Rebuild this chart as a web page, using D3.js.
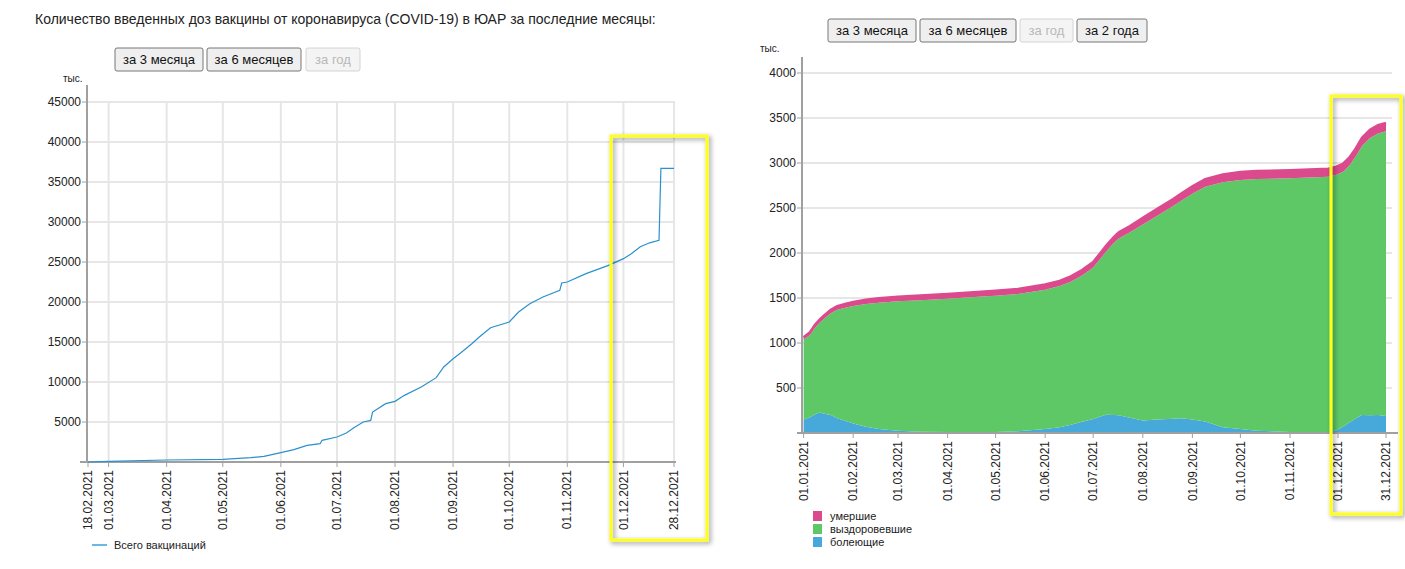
<!DOCTYPE html>
<html>
<head>
<meta charset="utf-8">
<script src="https://cdn.jsdelivr.net/npm/d3@7"></script>
<style>
  html, body { margin: 0; padding: 0; background: #fff; }
  svg { display: block; font-family: 'Liberation Sans', Arial, sans-serif; }
</style>
</head>
<body>
<svg id="chart" width="1405" height="569"></svg>
<script>
// ── Data ─────────────────────────────────────────────
// Left: total vaccinations, thousands
const vacDates = ['2021-02-18','2021-03-01','2021-04-01','2021-05-01','2021-05-16','2021-05-23','2021-06-01',
  '2021-06-08','2021-06-15','2021-06-22','2021-06-23','2021-07-01','2021-07-06','2021-07-10','2021-07-15',
  '2021-07-19','2021-07-20','2021-07-27','2021-08-01','2021-08-06','2021-08-15','2021-08-23','2021-08-27',
  '2021-09-01','2021-09-05','2021-09-11','2021-09-15','2021-09-21','2021-10-01','2021-10-06','2021-10-12',
  '2021-10-19','2021-10-28','2021-10-29','2021-11-01','2021-11-11','2021-11-23','2021-12-01','2021-12-05',
  '2021-12-10','2021-12-15','2021-12-20','2021-12-21','2021-12-28'];
const vacTotal = [0, 83, 250, 333, 540, 710, 1170,
  1540, 2080, 2290, 2710, 3125, 3625, 4290, 5000,
  5200, 6250, 7290, 7580, 8330, 9375, 10540, 11875,
  12900, 13625, 14790, 15625, 16790, 17500, 18750, 19790,
  20625, 21460, 22375, 22500, 23540, 24580, 25420, 26000,
  26900, 27400, 27700, 36700, 36700];
const vacTicks = ['2021-02-18','2021-03-01','2021-04-01','2021-05-01','2021-06-01','2021-07-01','2021-08-01',
  '2021-09-01','2021-10-01','2021-11-01','2021-12-01','2021-12-28'];
const vacYTicks = [5000, 10000, 15000, 20000, 25000, 30000, 35000, 40000, 45000];

// Right: cases, thousands
const caseDates = ['2021-01-01','2021-01-05','2021-01-08','2021-01-11','2021-01-14','2021-01-18','2021-01-22',
  '2021-01-27','2021-02-01','2021-02-09','2021-02-17','2021-03-01','2021-03-15','2021-04-01','2021-04-15',
  '2021-05-01','2021-05-15','2021-06-01','2021-06-10','2021-06-17','2021-06-24','2021-07-01','2021-07-05',
  '2021-07-09','2021-07-14','2021-07-17','2021-07-24','2021-08-01','2021-08-10','2021-08-20','2021-08-25',
  '2021-09-01','2021-09-09','2021-09-20','2021-10-01','2021-10-11','2021-11-01','2021-11-25','2021-11-30',
  '2021-12-04','2021-12-08','2021-12-12','2021-12-16','2021-12-21','2021-12-26','2021-12-31'];
const active = [150, 175, 205, 229, 215, 200, 165,
  135, 105, 70, 45, 25, 15, 10, 8,
  11, 20, 44, 65, 92, 125, 155, 180,
  203, 200, 196, 170, 140, 150, 158, 163,
  150, 129, 63, 44, 26, 10, 5, 30,
  70, 118, 160, 200, 196, 200, 190];
const recovered = [886, 914, 962, 996, 1058, 1131, 1204,
  1257, 1305, 1363, 1403, 1440, 1461, 1482, 1499,
  1515, 1525, 1549, 1567, 1589, 1625, 1683, 1746,
  1812, 1913, 1966, 2060, 2178, 2265, 2364, 2417,
  2508, 2607, 2722, 2768, 2796, 2821, 2843, 2840,
  2830, 2852, 2910, 2990, 3083, 3129, 3164];
const deaths = [29, 31, 33, 35, 37, 39, 41,
  43, 45, 47, 49, 50, 51, 53, 53,
  54, 55, 57, 58, 59, 60, 62, 64,
  65, 67, 68, 70, 72, 75, 78, 80,
  82, 84, 87, 88, 88, 89, 89, 90,
  90, 90, 90, 90, 91, 91, 91];
const caseTicks = ['2021-01-01','2021-02-01','2021-03-01','2021-04-01','2021-05-01','2021-06-01','2021-07-01',
  '2021-08-01','2021-09-01','2021-10-01','2021-11-01','2021-12-01','2021-12-31'];
const caseYTicks = [500, 1000, 1500, 2000, 2500, 3000, 3500, 4000];

const seriesKeys   = ['active', 'recovered', 'deaths'];
const seriesColors = { active: '#47a8da', recovered: '#5ec867', deaths: '#dc4a8e' };
const legendItems  = [['deaths', 'умершие'], ['recovered', 'выздоровевшие'], ['active', 'болеющие']];

// ── Helpers ──────────────────────────────────────────
const parse = d3.timeParse('%Y-%m-%d');
const fmt   = d3.timeFormat('%d.%m.%Y');
const svg   = d3.select('#chart');

const defs = svg.append('defs');
const sh = defs.append('filter').attr('id', 'shadow').attr('x', '-20%').attr('y', '-10%').attr('width', '140%').attr('height', '120%');
sh.append('feDropShadow').attr('dx', 2).attr('dy', 2).attr('stdDeviation', 2.5).attr('flood-color', '#000').attr('flood-opacity', 0.45);

function button(x, y, w, label, disabled) {
  const g = svg.append('g').attr('transform', `translate(${x},${y})`);
  g.append('rect').attr('width', w).attr('height', 23).attr('rx', 2)
    .attr('fill', disabled ? '#f4f4f4' : '#efefef')
    .attr('stroke', disabled ? '#d4d4d4' : '#767676');
  g.append('text').attr('x', w / 2).attr('y', 16).attr('text-anchor', 'middle')
    .attr('font-size', 13).attr('fill', disabled ? '#b8b8b8' : '#111').text(label);
}

function yAxisGroup(y, ticks, x0, x1, top) {
  const g = svg.append('g');
  g.selectAll('line.gy').data(ticks).join('line')
    .attr('x1', x0).attr('x2', x1).attr('y1', d => y(d)).attr('y2', d => y(d))
    .attr('stroke', '#e6e6e6').attr('stroke-width', 2);
  g.append('line').attr('x1', x0).attr('x2', x0).attr('y1', top).attr('y2', y(0))
    .attr('stroke', '#a0a0a0').attr('stroke-width', 2);
  g.selectAll('line.ty').data(ticks).join('line')
    .attr('x1', x0 - 5).attr('x2', x0).attr('y1', d => y(d)).attr('y2', d => y(d))
    .attr('stroke', '#a0a0a0');
  g.selectAll('text').data(ticks).join('text')
    .attr('x', x0 - 6).attr('y', d => y(d)).attr('dy', '0.35em')
    .attr('text-anchor', 'end').attr('font-size', 12).attr('fill', '#222').text(d => d);
}

function xAxisGroup(x, ticks, y0, xa, xb) {
  const g = svg.append('g');
  g.append('line').attr('x1', xa).attr('x2', xb).attr('y1', y0).attr('y2', y0)
    .attr('stroke', '#a0a0a0').attr('stroke-width', 2);
  g.selectAll('line.tx').data(ticks).join('line').attr('class', 'tx')
    .attr('x1', d => x(d)).attr('x2', d => x(d)).attr('y1', y0).attr('y2', y0 + 5)
    .attr('stroke', '#a0a0a0');
  g.selectAll('text').data(ticks).join('text')
    .attr('transform', d => `translate(${x(d)},${y0 + 8}) rotate(-90)`)
    .attr('dy', '0.35em').attr('text-anchor', 'end')
    .attr('font-size', 12).attr('fill', '#222').text(d => fmt(d));
}

// ── Title ────────────────────────────────────────────
svg.append('text').attr('x', 35).attr('y', 24).attr('font-size', 14).attr('fill', '#222')
  .text('Количество введенных доз вакцины от коронавируса (COVID-19) в ЮАР за последние месяцы:');

// ── Left chart: vaccinations ─────────────────────────
button(115, 48, 88, 'за 3 месяца', false);
button(207, 48, 94, 'за 6 месяцев', false);
button(306, 48, 54, 'за год', true);

const vData = vacDates.map((d, i) => ({ date: parse(d), value: vacTotal[i] }));
const vTicks = vacTicks.map(parse);
const xL = d3.scaleTime().domain([vTicks[0], vTicks[vTicks.length - 1]]).range([88, 674]);
const yL = d3.scaleLinear().domain([0, 45000]).range([462, 102]);

svg.append('g').selectAll('line').data(vTicks.slice(1)).join('line')
  .attr('x1', d => xL(d)).attr('x2', d => xL(d)).attr('y1', yL(45000)).attr('y2', yL(0))
  .attr('stroke', '#e6e6e6').attr('stroke-width', 2);
yAxisGroup(yL, vacYTicks, 87, 675, 85);
xAxisGroup(xL, vTicks, 462, 80, 676);
svg.append('text').attr('x', 63).attr('y', 82).attr('font-size', 10).attr('fill', '#222').text('тыс.');

svg.append('path').datum(vData)
  .attr('fill', 'none').attr('stroke', '#2b91cc').attr('stroke-width', 1.2)
  .attr('d', d3.line().x(d => xL(d.date)).y(d => yL(d.value)));

svg.append('line').attr('x1', 92).attr('x2', 107).attr('y1', 545).attr('y2', 545)
  .attr('stroke', '#6db8e2').attr('stroke-width', 2);
svg.append('text').attr('x', 114).attr('y', 549).attr('font-size', 11).attr('fill', '#222').text('Всего вакцинаций');

// ── Right chart: cases ───────────────────────────────
button(828, 19, 88, 'за 3 месяца', false);
button(920, 19, 96, 'за 6 месяцев', false);
button(1020, 19, 53, 'за год', true);
button(1077, 19, 70, 'за 2 года', false);

const cData = caseDates.map((d, i) => ({
  date: parse(d), active: active[i], recovered: recovered[i], deaths: deaths[i]
}));
const cTicks = caseTicks.map(parse);
const xR = d3.scaleTime().domain([cTicks[0], cTicks[cTicks.length - 1]]).range([803.6, 1386]);
const yR = d3.scaleLinear().domain([0, 4000]).range([433, 73]);

yAxisGroup(yR, caseYTicks, 802, 1392, 57);

const stack = d3.stack().keys(seriesKeys)(cData);
const area = d3.area().x(d => xR(d.data.date)).y0(d => yR(d[0])).y1(d => yR(d[1]));
svg.append('g').selectAll('path').data(stack).join('path')
  .attr('fill', d => seriesColors[d.key]).attr('d', area);
// outline on the top series so the band reads as thick as the original
svg.append('path').datum(stack[2])
  .attr('fill', 'none').attr('stroke', seriesColors.deaths).attr('stroke-width', 2.5)
  .attr('d', d3.line().x(d => xR(d.data.date)).y(d => yR(d[1])));

xAxisGroup(xR, cTicks, 433, 797, 1398);
svg.append('text').attr('x', 760).attr('y', 52).attr('font-size', 10).attr('fill', '#222').text('тыс.');

const leg = svg.append('g').selectAll('g').data(legendItems).join('g')
  .attr('transform', (d, i) => `translate(813,${511 + i * 13})`);
leg.append('rect').attr('width', 9).attr('height', 10).attr('fill', d => seriesColors[d[0]]);
leg.append('text').attr('x', 17).attr('y', 9).attr('font-size', 11).attr('fill', '#222').text(d => d[1]);

// ── Yellow highlight boxes ───────────────────────────
[[611, 136, 96, 404], [1331, 96, 70, 418]].forEach(([x, y, w, h]) => {
  svg.append('rect').attr('x', x).attr('y', y).attr('width', w).attr('height', h)
    .attr('fill', 'none').attr('stroke', '#ffff1a').attr('stroke-width', 3)
    .attr('filter', 'url(#shadow)');
});
</script>
</body>
</html>
